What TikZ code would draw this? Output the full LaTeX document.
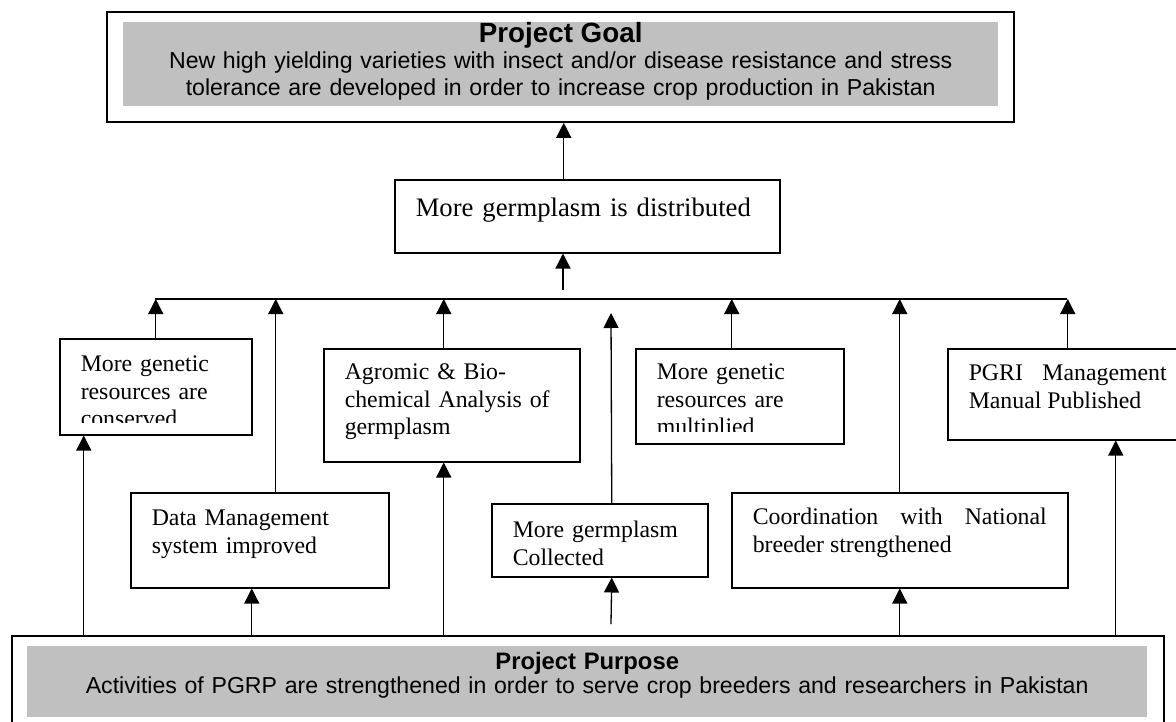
\documentclass[tikz,border=0pt]{standalone}
\usepackage{fontspec}
\setmainfont{Liberation Serif}
\setsansfont{Liberation Sans}
\usepackage{tikz}
\usetikzlibrary{arrows.meta, positioning}
\definecolor{bandgray}{RGB}{192,192,192}

\begin{document}
\begin{tikzpicture}[
    x=1pt, y=-1pt,
    box/.style={
        draw, line width=1.5pt, anchor=north west,
        inner xsep=21pt, inner ysep=0pt, align=left,
        font=\fontsize{23.8}{27.5}\selectfont
    },
    outer/.style={draw, line width=1.8pt, anchor=north west, inner sep=0pt},
    band/.style={
        fill=bandgray, anchor=north west, inner sep=0pt, align=center,
        font=\sffamily\fontsize{23.1}{26.5}\selectfont
    },
    arr/.style={-{Triangle[length=15pt, width=15pt]}, line width=1.3pt},
    busline/.style={line width=1.3pt}
]
\clip (0,0) rectangle (1176,721);

% Goal on top, distribution box below it
\node[outer, minimum width=907pt, minimum height=110pt] (goal) at (106,11) {};
\node[band, text width=875pt, text height=20pt, text depth=64pt] (goaltxt) at (123,22)
    {{\bfseries\fontsize{27.8}{30}\selectfont Project Goal}\\
     New high yielding varieties with insect and/or disease resistance and stress\\
     tolerance are developed in order to increase crop production in Pakistan};
\node[box, text width=343pt, text height=37pt, text depth=36pt,
      font=\fontsize{26.7}{30}\selectfont] (dist) at (394,179) {More germplasm is distributed};

% Upper row of outputs
\node[box, minimum width=192pt, minimum height=96pt] (cons) at (59,338) {};
\begin{scope}
    \clip (59,338) rectangle (251,422);
    \node[box, draw=none, text width=150pt, text height=33pt] (constxt) at (59,338)
        {More genetic\\resources are\\conserved};
\end{scope}
\node[box, text width=214pt, text height=31pt, text depth=82pt] (agro) at (323,348)
    {Agromic \& Bio-\\chemical Analysis of\\germplasm};
\node[box, minimum width=208pt, minimum height=95pt] (mult) at (635,348) {};
\begin{scope}
    \clip (635,348) rectangle (843,431);
    \node[box, draw=none, text width=166pt, text height=31pt] (multtxt) at (635,348)
        {More genetic\\resources are\\multiplied};
\end{scope}
\node[box, text width=198pt, text height=32pt, text depth=59pt, align=justify] (pgri) at (947,348)
    {PGRI Management\linebreak Manual Published};

% Lower row of outputs
\node[box, text width=216pt, text height=33pt, text depth=62pt] (data) at (130,492)
    {Data Management\\system improved};
\node[box, text width=174pt, text height=34pt, text depth=39pt] (coll) at (491,503)
    {More germplasm\\Collected};
\node[box, text width=294pt, text height=32pt, text depth=63pt, align=justify] (coord) at (731,492)
    {Coordination with National\linebreak breeder strengthened};

% Purpose at the bottom
\node[outer, minimum width=1152pt, minimum height=95pt] (purp) at (11,635) {};
\node[band, text width=1120pt, text height=23pt, text depth=48pt,
      font=\sffamily\fontsize{23.1}{24}\selectfont] (purptxt) at (27,646)
    {{\bfseries\fontsize{23.8}{24}\selectfont Project Purpose}\\
     Activities of PGRP are strengthened in order to serve crop breeders and researchers in Pakistan};

% Collecting line and its free ends
\coordinate (busL) at (155,299);
\coordinate (busR) at (1067,299);
\coordinate (distIn) at (563,290);
\coordinate (collTop) at (611,313);
\coordinate (collBot) at (611,624);
\draw[busline] (busL) -- (busR);

% Into the collecting line and up to the goal
\draw[arr] (cons.north) -- (cons.north |- busL);
\draw[arr] ([xshift=16pt]data.north) -- ([xshift=16pt]data.north |- busL);
\draw[arr] ([xshift=-8pt]agro.north) -- ([xshift=-8pt]agro.north |- busL);
\draw[arr] ([xshift=12pt]coll.north) -- (collTop);
\draw[arr] ([xshift=-8pt]mult.north) -- ([xshift=-8pt]mult.north |- busL);
\draw[arr] (coord.north) -- (coord.north |- busL);
\draw[arr] (pgri.north) -- (pgri.north |- busL);
\draw[arr] (distIn) -- (distIn |- dist.south);
\draw[arr] ([xshift=-23.5pt]dist.north) -- ([xshift=-23.5pt]dist.north |- goal.south);

% From the purpose up to the outputs
\draw[arr] ([xshift=-72pt]cons.south |- purp.north) -- ([xshift=-72pt]cons.south);
\draw[arr] ([xshift=-8pt]data.south |- purp.north) -- ([xshift=-8pt]data.south);
\draw[arr] ([xshift=-8pt]agro.south |- purp.north) -- ([xshift=-8pt]agro.south);
\draw[arr] (collBot) -- ([xshift=12pt]coll.south);
\draw[arr] (coord.south |- purp.north) -- (coord.south);
\draw[arr] ([xshift=48pt]pgri.south |- purp.north) -- ([xshift=48pt]pgri.south);

\end{tikzpicture}
\end{document}
